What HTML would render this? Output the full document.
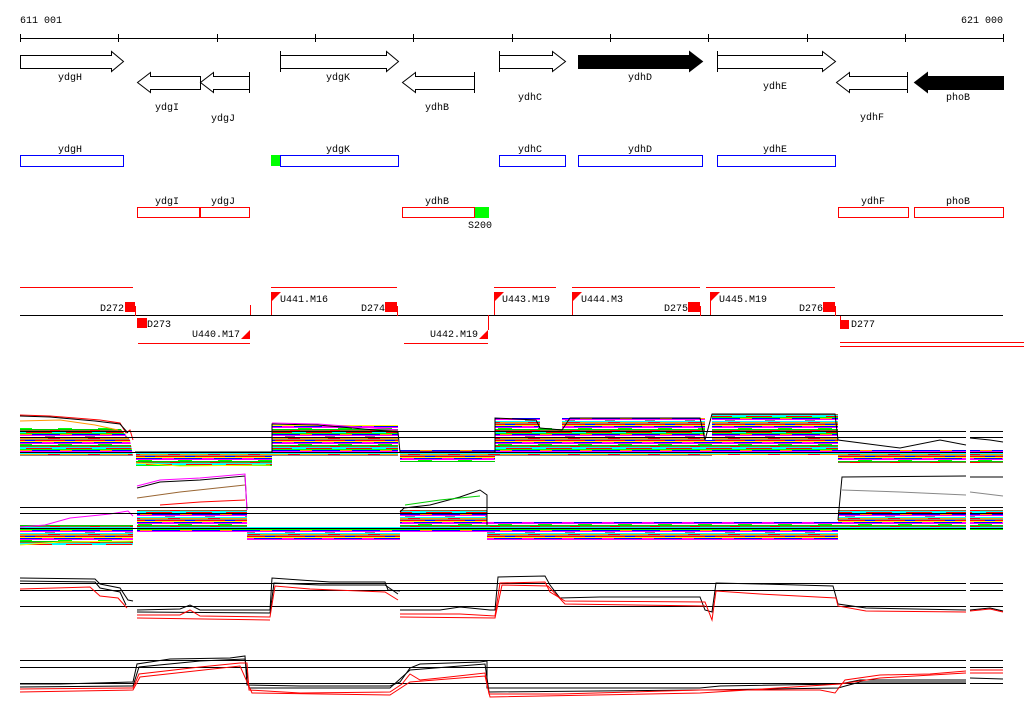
<!DOCTYPE html>
<html><head><meta charset="utf-8"><style>
html,body{margin:0;padding:0;background:#fff}
svg{display:block}
text{font-family:"Liberation Mono","DejaVu Sans Mono",monospace;font-size:10px;fill:#000}
</style></head><body>
<svg width="1024" height="714" viewBox="0 0 1024 714" xmlns="http://www.w3.org/2000/svg">
<defs>
<pattern id="p" width="40" height="16" patternUnits="userSpaceOnUse">
<rect width="40" height="16" fill="#fff"/>
<rect y="0" width="40" height="1" fill="#f00"/>
<rect x="12" y="0" width="14" height="1" fill="#0ff"/>
<rect y="1" width="40" height="1" fill="#0f0"/>
<rect y="2" width="40" height="1" fill="#00f"/>
<rect x="20" y="2" width="12" height="1" fill="#f90"/>
<rect y="3" width="40" height="1" fill="#f0f"/>
<rect x="5" y="4" width="10" height="1" fill="#888"/>
<rect y="5" width="40" height="1" fill="#0ff"/>
<rect y="6" width="40" height="1" fill="#f90"/>
<rect x="8" y="6" width="12" height="1" fill="#f00"/>
<rect y="7" width="40" height="1" fill="#888"/>
<rect y="8" width="40" height="1" fill="#f00"/>
<rect x="25" y="8" width="10" height="1" fill="#00f"/>
<rect y="9" width="40" height="1" fill="#ff0"/>
<rect y="10" width="40" height="1" fill="#00f"/>
<rect x="2" y="10" width="12" height="1" fill="#f0f"/>
<rect y="11" width="40" height="1" fill="#f0f"/>
<rect x="18" y="12" width="14" height="1" fill="#0f0"/>
<rect y="13" width="40" height="1" fill="#0c0"/>
<rect y="14" width="40" height="1" fill="#963"/>
<rect x="10" y="14" width="10" height="1" fill="#f00"/>
<rect y="15" width="40" height="1" fill="#0ff"/>
</pattern>
</defs>

<text x="20" y="23">611 001</text>
<text x="1003" y="23" text-anchor="end">621 000</text>
<g stroke="#000" stroke-width="1">
<line x1="20" y1="38.5" x2="1003" y2="38.5"/>
<path d="M20.5 34v8M118.5 34v8M217.5 34v8M315.5 34v8M413.5 34v8M512.5 34v8M610.5 34v8M708.5 34v8M807.5 34v8M905.5 34v8M1003.5 34v8"/>
</g>

<g stroke="#000" stroke-width="1" fill="#fff">
<polygon points="20.5,55.5 111.5,55.5 111.5,51.5 123.5,61.5 111.5,71.5 111.5,68.5 20.5,68.5"/>
<polygon points="200.5,76.5 150.5,76.5 150.5,72.5 137.5,82.5 150.5,92.5 150.5,89.5 200.5,89.5"/>
<polygon points="249.5,76.5 213.5,76.5 213.5,72.5 200.5,82.5 213.5,92.5 213.5,89.5 249.5,89.5"/>
<path d="M249.5 72v21"/>
<polygon points="280.5,55.5 386.5,55.5 386.5,51.5 398.5,61.5 386.5,71.5 386.5,68.5 280.5,68.5"/>
<path d="M280.5 51v21"/>
<polygon points="474.5,76.5 415.5,76.5 415.5,72.5 402.5,82.5 415.5,92.5 415.5,89.5 474.5,89.5"/>
<path d="M474.5 72v21"/>
<polygon points="499.5,55.5 552.5,55.5 552.5,51.5 565.5,61.5 552.5,71.5 552.5,68.5 499.5,68.5"/>
<path d="M499.5 51v21"/>
<polygon fill="#000" points="578.5,55.5 689.5,55.5 689.5,51.5 702.5,61.5 689.5,71.5 689.5,68.5 578.5,68.5"/>
<polygon points="717.5,55.5 822.5,55.5 822.5,51.5 835.5,61.5 822.5,71.5 822.5,68.5 717.5,68.5"/>
<path d="M717.5 51v21"/>
<polygon points="907.5,76.5 849.5,76.5 849.5,72.5 836.5,82.5 849.5,92.5 849.5,89.5 907.5,89.5"/>
<path d="M907.5 72v21"/>
<polygon fill="#000" points="1003.5,76.5 927.5,76.5 927.5,72.5 914.5,82.5 927.5,92.5 927.5,89.5 1003.5,89.5"/>
</g>
<text x="70" y="80" text-anchor="middle">ydgH</text>
<text x="167" y="110" text-anchor="middle">ydgI</text>
<text x="223" y="121" text-anchor="middle">ydgJ</text>
<text x="338" y="80" text-anchor="middle">ydgK</text>
<text x="437" y="110" text-anchor="middle">ydhB</text>
<text x="530" y="100" text-anchor="middle">ydhC</text>
<text x="640" y="80" text-anchor="middle">ydhD</text>
<text x="775" y="89" text-anchor="middle">ydhE</text>
<text x="872" y="120" text-anchor="middle">ydhF</text>
<text x="958" y="100" text-anchor="middle">phoB</text>

<rect x="271" y="155" width="9" height="11" fill="#0f0"/>
<g fill="none" stroke="#00f">
<rect x="20.5" y="155.5" width="103" height="11"/>
<rect x="280.5" y="155.5" width="118" height="11"/>
<rect x="499.5" y="155.5" width="66" height="11"/>
<rect x="578.5" y="155.5" width="124" height="11"/>
<rect x="717.5" y="155.5" width="118" height="11"/>
</g>
<text x="70" y="152" text-anchor="middle">ydgH</text>
<text x="338" y="152" text-anchor="middle">ydgK</text>
<text x="530" y="152" text-anchor="middle">ydhC</text>
<text x="640" y="152" text-anchor="middle">ydhD</text>
<text x="775" y="152" text-anchor="middle">ydhE</text>

<rect x="474" y="207" width="15" height="11" fill="#0f0"/>
<g fill="none" stroke="#f00">
<rect x="137.5" y="207.5" width="62" height="10"/>
<rect x="200.5" y="207.5" width="49" height="10"/>
<rect x="402.5" y="207.5" width="72" height="10"/>
<rect x="838.5" y="207.5" width="70" height="10"/>
<rect x="914.5" y="207.5" width="89" height="10"/>
</g>
<text x="167" y="204" text-anchor="middle">ydgI</text>
<text x="223" y="204" text-anchor="middle">ydgJ</text>
<text x="437" y="204" text-anchor="middle">ydhB</text>
<text x="480" y="228" text-anchor="middle">S200</text>
<text x="873" y="204" text-anchor="middle">ydhF</text>
<text x="958" y="204" text-anchor="middle">phoB</text>

<line x1="20" y1="315.5" x2="1003" y2="315.5" stroke="#000"/>
<g stroke="#f00" fill="none">
<path d="M20 287.5h113M271 287.5h126M494 287.5h62M572 287.5h128M706 287.5h129"/>
<path d="M138 343.5h112M404 343.5h84M840 342.5h184M840 346.5h184"/>
<path d="M135.5 306v10M250.5 305v10M271.5 292v23M397.5 306v10M488.5 330v-15M494.5 292v23M572.5 292v23M700.5 306v10M710.5 292v23M835.5 306v10M840.5 316v9"/>
</g>
<g fill="#f00">
<rect x="125" y="302" width="10" height="10"/>
<rect x="137" y="318" width="10" height="10"/>
<rect x="385" y="302" width="12" height="10"/>
<rect x="688" y="302" width="12" height="10"/>
<rect x="823" y="302" width="12" height="10"/>
<rect x="840" y="320" width="9" height="9"/>
<polygon points="272,292 281,292 272,301"/>
<polygon points="495,292 504,292 495,301"/>
<polygon points="573,292 582,292 573,301"/>
<polygon points="711,292 720,292 711,301"/>
<polygon points="250,330 250,339 241,339"/>
<polygon points="488,330 488,339 479,339"/>
</g>
<text x="124" y="311" text-anchor="end">D272</text>
<text x="147" y="327">D273</text>
<text x="240" y="337" text-anchor="end">U440.M17</text>
<text x="280" y="302">U441.M16</text>
<text x="385" y="311" text-anchor="end">D274</text>
<text x="478" y="337" text-anchor="end">U442.M19</text>
<text x="502" y="302">U443.M19</text>
<text x="581" y="302">U444.M3</text>
<text x="688" y="311" text-anchor="end">D275</text>
<text x="719" y="302">U445.M19</text>
<text x="823" y="311" text-anchor="end">D276</text>
<text x="851" y="327">D277</text>

<!-- track 1 -->
<g fill="url(#p)">
<polygon points="20,428 120,428 130,440 133,456 20,456"/>
<rect x="136" y="452" width="136" height="14"/>
<rect x="272" y="425" width="126" height="31"/>
<rect x="400" y="450" width="95" height="12"/>
<rect x="495" y="418" width="45" height="38"/>
<rect x="540" y="428" width="22" height="28"/>
<rect x="562" y="418" width="143" height="38"/>
<rect x="705" y="440" width="7" height="16"/>
<rect x="712" y="414" width="126" height="41"/>
<rect x="838" y="450" width="128" height="13"/>
<rect x="970" y="450" width="33" height="13"/>
</g>
<g fill="none" stroke-width="1">
<polyline stroke="#f00" points="20,415 50,416 100,420 120,423 126,433 130,430 133,440"/>
<polyline stroke="#000" points="20,416 50,417 95,421 120,424 128,433"/>
<polyline stroke="#f90" points="20,421 60,420 95,425 118,430"/>
<polyline stroke="#000" points="135,452 272,452 272,424 318,425 398,432 400,452 495,452 495,418 536,420 540,428 562,430 570,418 700,418 705,440 712,414 835,414 838,440 900,448 940,440 966,445"/>
<polyline stroke="#f0f" points="272,423 318,424 398,430"/>
<polyline stroke="#000" points="970,438 990,440 1003,442"/>
<polyline stroke="#ff0" points="136,463 180,466 270,465"/>
</g>
<g stroke="#000"><path d="M20 431.5h946M970 431.5h33M20 437.5h946M970 437.5h33M20 452.5h946M970 452.5h33"/></g>

<!-- track 2 -->
<g fill="url(#p)">
<rect x="20" y="525" width="113" height="20"/>
<rect x="137" y="510" width="110" height="22"/>
<rect x="247" y="527" width="153" height="13"/>
<rect x="400" y="510" width="87" height="22"/>
<rect x="487" y="522" width="351" height="18"/>
<rect x="838" y="510" width="128" height="20"/>
<rect x="970" y="510" width="33" height="20"/>
</g>
<g fill="none">
<polyline stroke="#f0f" points="20,527 45,525 70,518 110,514 128,511 133,516"/>
<polyline stroke="#000" points="137,488 160,482 200,480 245,476 247,510"/>
<polyline stroke="#f0f" points="137,486 160,480 200,478 245,474 247,510"/>
<polyline stroke="#963" points="137,498 180,492 245,485"/>
<polyline stroke="#f00" points="160,505 200,502 245,500"/>
<polyline stroke="#000" points="400,512 404,508 430,505 460,497 480,490 487,495 487,525"/>
<polyline stroke="#0c0" points="405,505 440,500 480,496"/>
<polyline stroke="#000" points="838,520 842,477 966,476"/>
<polyline stroke="#888" points="842,490 900,492 966,495"/>
<polyline stroke="#000" points="970,477 1003,477"/>
<polyline stroke="#888" points="970,492 1003,496"/>
<polyline stroke="#ff0" points="20,545 60,542 133,541"/>
</g>
<g stroke="#000"><path d="M20 507.5h946M970 507.5h33M20 513.5h946M970 513.5h33M20 528.5h946M970 528.5h33"/></g>

<!-- track 3 -->
<g stroke="#000"><path d="M20 583.5h946M970 583.5h33M20 590.5h946M970 590.5h33M20 606.5h946M970 606.5h33"/></g>
<g fill="none">
<polyline stroke="#000" points="20,578 95,579 100,584 120,588 128,600 133,601"/>
<polyline stroke="#000" points="20,581 95,582 100,588 120,592 126,605"/>
<polyline stroke="#f00" points="20,589 90,587 100,596 118,598 127,608"/>
<polyline stroke="#000" points="137,610 180,609 190,605 200,610 270,610 272,578 300,580 330,582 385,582 388,590 400,591"/>
<polyline stroke="#000" points="137,612 270,613 274,583 320,585 385,585 398,594"/>
<polyline stroke="#f00" points="137,615 180,615 190,610 200,616 270,617 275,586 310,589 385,592 398,600"/>
<polyline stroke="#f00" points="137,618 270,620"/>
<polyline stroke="#000" points="400,610 440,610 460,607 490,610 495,610 498,577 545,576 550,585 560,598 600,597 700,597 705,610 712,612 716,583 760,584 833,586 838,604 866,608 966,610"/>
<polyline stroke="#f00" points="400,614 460,614 495,616 500,583 545,582 550,592 565,601 705,602 712,620 716,591 760,594 836,598 838,606 866,611 966,612"/>
<polyline stroke="#f00" points="400,617 495,618 502,585 548,586 565,604 705,606"/>
<polyline stroke="#000" points="970,610 990,608 1003,611"/>
<polyline stroke="#f00" points="970,611 990,609 1003,612"/>
</g>

<!-- track 4 -->
<g stroke="#000"><path d="M20 660.5h946M970 660.5h33M20 667.5h946M970 667.5h33M20 683.5h946M970 683.5h33"/></g>
<g fill="none">
<polyline stroke="#000" points="20,684 60,684 133,682 137,664 170,659 230,658 245,656 247,685 300,686 390,686 400,682 410,668 420,664 480,662 487,661 487,688 560,688 700,688 720,686 840,684 860,680 966,680"/>
<polyline stroke="#000" points="20,687 133,686 139,667 200,661 245,659 249,688 390,688 410,670 485,664 489,692 700,690 838,688 860,682 966,682"/>
<polyline stroke="#f00" points="20,689 133,688 139,674 200,667 240,663 247,663 249,690 300,693 390,692 402,684 410,674 420,680 440,678 485,673 489,694 560,694 700,690 820,690 835,693 845,680 880,675 930,674 966,671"/>
<polyline stroke="#f00" points="20,692 133,690 140,677 240,666 252,693 390,695 410,682 485,676 490,697 700,693 840,684 880,678 966,673"/>
<polyline stroke="#f00" points="970,670 1003,670"/>
<polyline stroke="#f00" points="970,673 1003,673"/>
<polyline stroke="#000" points="970,678 1003,679"/>
</g>
</svg>
</body></html>
